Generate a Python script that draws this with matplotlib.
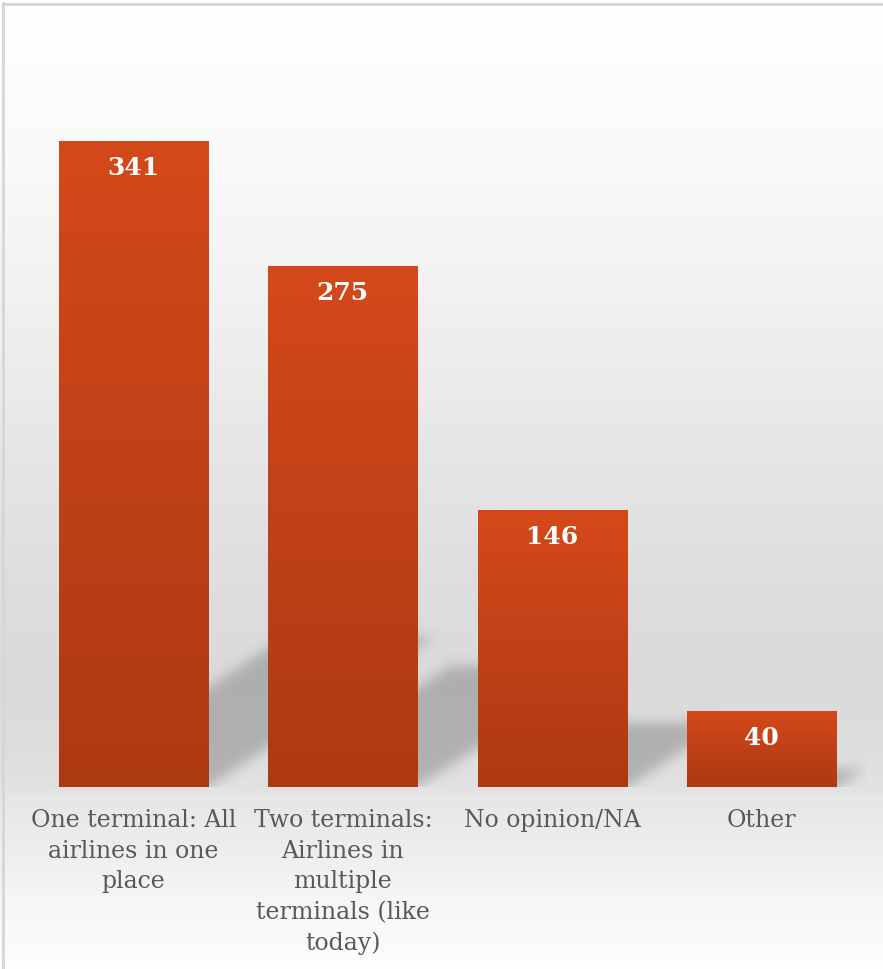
import matplotlib.pyplot as plt
import matplotlib.colors as mcolors
import numpy as np

categories = ["One terminal: All\nairlines in one\nplace",
              "Two terminals:\nAirlines in\nmultiple\nterminals (like\ntoday)",
              "No opinion/NA",
              "Other"]
counts = [341, 275, 146, 40]

W, H = 883, 969
fig = plt.figure(figsize=(W / 100, H / 100), dpi=100)

# background: vertical grey gradient, pixel exact
stops_y = [0, 150, 300, 450, 600, 680, 740, 787, 800, 850, 900, 969]
stops_v = [255, 250, 241, 230, 221, 218, 221, 226, 231, 238, 246, 254]
col = np.interp(np.arange(H), stops_y, stops_v) / 255.0
bgimg = np.repeat(col[:, None], W, axis=1)
bgimg = np.dstack([bgimg, bgimg, bgimg])
fig.figimage(bgimg, xo=0, yo=0, origin="upper", zorder=-10)

# thin border at left and top
fig.add_artist(plt.Line2D([3.5 / W, 3.5 / W], [0, 1 - 3 / H], color="#d6d6d6", lw=2))
fig.add_artist(plt.Line2D([3.5 / W, 1], [1 - 3.5 / H, 1 - 3.5 / H], color="#d6d6d6", lw=2))

# plot area
left, right, base = 28.8, 866.2, 787
ymax = 400
px_per_unit = 1.894
ax = fig.add_axes([left / W, 1 - base / H, (right - left) / W, ymax * px_per_unit / H])
ax.patch.set_alpha(0)
ax.set_xlim(-0.5, len(counts) - 0.5)
ax.set_ylim(0, ymax)
for s in ax.spines.values():
    s.set_visible(False)
ax.set_yticks([])

x = np.arange(len(counts))
width = 0.713
bars = ax.bar(x, counts, width=width, color="#c04218", zorder=3)

# soft oblique shadows behind the bars
nx, ny = int(right - left), int(ymax * px_per_unit)
gx = np.arange(nx) + 0.5
gy = np.arange(ny) + 0.5
XX, YY = np.meshgrid(gx, gy)
mask = np.zeros((ny, nx))
slot = (right - left) / len(counts)
for xi, v in zip(x, counts):
    hpx = v * px_per_unit
    rise, run = 0.233 * hpx, 0.35 * hpx
    x0 = (xi + 0.5 - width / 2) * slot
    x1 = (xi + 0.5 + width / 2) * slot
    t = np.clip(YY / rise, 0, None)
    inside = (YY <= rise) & (XX >= x0 + t * run) & (XX <= x1 + t * run)
    mask[inside] = 1.0
sig = 6.0
k = np.arange(-18, 19)
kern = np.exp(-k ** 2 / (2 * sig ** 2))
kern /= kern.sum()
pad = np.pad(mask, 18, mode="constant")
pad = np.apply_along_axis(lambda r: np.convolve(r, kern, mode="same"), 1, pad)
pad = np.apply_along_axis(lambda c: np.convolve(c, kern, mode="same"), 0, pad)
blur = pad[18:-18, 18:-18]
rgba = np.zeros((ny, nx, 4))
rgba[..., :3] = 0.47
rgba[..., 3] = blur * 0.44
ax.imshow(rgba, origin="lower", extent=(-0.5, len(counts) - 0.5, 0, ymax),
          aspect="auto", zorder=1, interpolation="nearest")

# gradient fill for each bar
grad_cmap = mcolors.LinearSegmentedColormap.from_list("bar", ["#ad3913", "#d4491a"])
grad = np.linspace(0, 1, 256)[:, None]
for b in bars:
    bx, by = b.get_x(), b.get_y()
    im = ax.imshow(grad, cmap=grad_cmap, origin="lower", aspect="auto",
                   extent=(bx, bx + b.get_width(), by, by + b.get_height()),
                   zorder=4, interpolation="bilinear")
    im.set_clip_path(b)

# value labels inside the bars
for xi, v in zip(x, counts):
    ax.annotate(str(v), (xi, v), xytext=(0, -27 * 0.72), textcoords="offset points",
                ha="center", va="center", color="white", fontsize=18,
                fontweight="bold", family="DejaVu Serif", zorder=5)

ax.set_xticks(x)
ax.set_xticklabels(categories, family="DejaVu Serif", fontsize=17, color="#595959",
                   linespacing=1.42)
ax.tick_params(axis="x", length=0, pad=16)
ax.set_xlim(-0.5, len(counts) - 0.5)
ax.set_ylim(0, ymax)

fig.savefig("out.png", dpi=100)
